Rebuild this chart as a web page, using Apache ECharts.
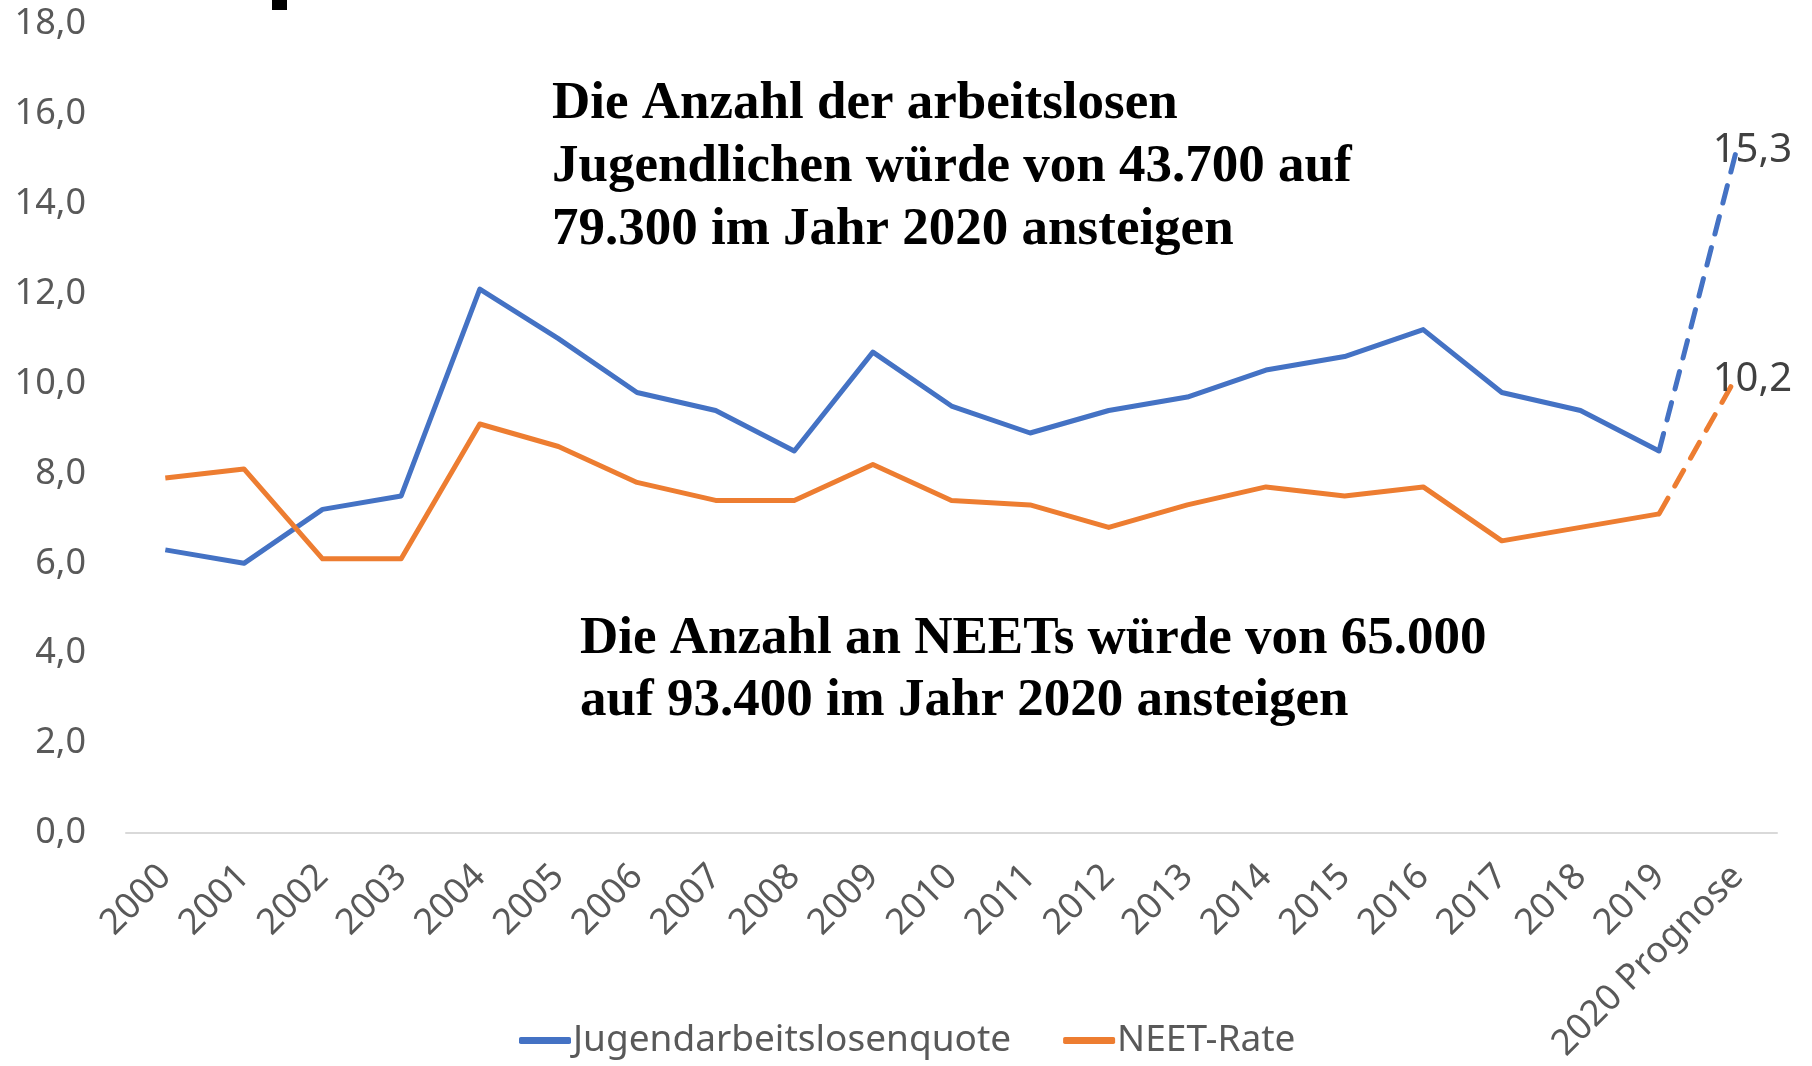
<!DOCTYPE html>
<html>
<head>
<meta charset="utf-8">
<script src="https://cdn.jsdelivr.net/npm/echarts@6/dist/echarts.min.js"></script>
<style>
    html, body { margin: 0; padding: 0; background: #fff; }
    #chart { width: 1812px; height: 1066px; }
</style>
</head>
<body>
<div id="chart"></div>
<script>
// Kategorien (Jahre)
const years = ['2000', '2001', '2002', '2003', '2004', '2005', '2006', '2007', '2008', '2009',
    '2010', '2011', '2012', '2013', '2014', '2015', '2016', '2017', '2018', '2019', '2020 Prognose']
// Jugendarbeitslosenquote
const youthRate = [6.3, 6.0, 7.2, 7.5, 12.1, 11.0, 9.8, 9.4, 8.5, 10.7,
    9.5, 8.9, 9.4, 9.7, 10.3, 10.6, 11.2, 9.8, 9.4, 8.5, 15.3]
// NEET-Rate
const neetRate = [7.9, 8.1, 6.1, 6.1, 9.1, 8.6, 7.8, 7.4, 7.4, 8.2,
    7.4, 7.3, 6.8, 7.3, 7.7, 7.5, 7.7, 6.5, 6.8, 7.1, 10.2]
const yTicks = [0, 2, 4, 6, 8, 10, 12, 14, 16, 18]

const blue = '#4472C4'
const orange = '#ED7D31'
const last = years.length - 1

// bis 2019 durchgezogen, 2019 -> 2020 gestrichelt
function solidPart(arr) {
    return arr.map((v, i) => (i < last ? v : '-'))
}
function dashedPart(arr) {
    return arr.map((v, i) => (i >= last - 1 ? v : '-'))
}

// Beschriftung nur am letzten Punkt
const endLabel = {
    show: true,
    position: 'right',
    offset: [-30, 5],
    color: '#404040',
    fontSize: 40,
    fontFamily: 'Noto Sans',
    formatter: p => (p.dataIndex === last ? String(p.value).replace('.', ',') : '')
}

const myChart = echarts.init(document.getElementById('chart'))
const option = {
    animation: false,
    grid: { left: 126, right: 35, top: 24, bottom: 233 },
    xAxis: {
        type: 'category',
        data: years,
        axisLine: { lineStyle: { color: '#D9D9D9', width: 2 } },
        axisTick: { show: false },
        axisLabel: {
            interval: 0,
            rotate: 45,
            margin: 38,
            color: '#595959',
            fontSize: 36,
            fontFamily: 'Noto Sans'
        }
    },
    yAxis: {
        type: 'value',
        min: 0,
        max: 18,
        interval: 2,
        splitLine: { show: false },
        axisLine: { show: false },
        axisTick: { show: false },
        axisLabel: {
            margin: 40,
            color: '#595959',
            fontSize: 36,
            fontFamily: 'Noto Sans',
            formatter: v => (yTicks.indexOf(v) >= 0 ? v.toFixed(1).replace('.', ',') : '')
        }
    },
    legend: {
        left: 514,
        top: 1017,
        itemWidth: 52,
        itemHeight: 7,
        itemGap: 52,
        icon: 'roundRect',
        textStyle: { color: '#595959', fontSize: 37, fontFamily: 'Noto Sans', padding: [0, 0, 0, -3] },
        data: ['Jugendarbeitslosenquote', 'NEET-Rate']
    },
    series: [
        {
            name: 'Jugendarbeitslosenquote',
            type: 'line',
            data: solidPart(youthRate),
            symbol: 'none',
            lineStyle: { color: blue, width: 5, join: 'round' },
            itemStyle: { color: blue }
        },
        {
            name: 'Jugendarbeitslosenquote',
            type: 'line',
            data: dashedPart(youthRate),
            symbol: 'circle',
            symbolSize: 0.1,
            showSymbol: true,
            lineStyle: { color: blue, width: 5, type: [18, 14], cap: 'round' },
            itemStyle: { color: blue },
            label: endLabel
        },
        {
            name: 'NEET-Rate',
            type: 'line',
            data: solidPart(neetRate),
            symbol: 'none',
            lineStyle: { color: orange, width: 5, join: 'round' },
            itemStyle: { color: orange }
        },
        {
            name: 'NEET-Rate',
            type: 'line',
            data: dashedPart(neetRate),
            symbol: 'circle',
            symbolSize: 0.1,
            showSymbol: true,
            lineStyle: { color: orange, width: 5, type: [18, 14], cap: 'round' },
            itemStyle: { color: orange },
            label: endLabel
        }
    ],
    graphic: [
        // Rest des abgeschnittenen Titels oben
        { type: 'rect', left: 272, top: 0, shape: { width: 15, height: 10 }, style: { fill: '#000' } },
        {
            type: 'text',
            left: 552,
            top: 73,
            style: {
                text: 'Die Anzahl der arbeitslosen\nJugendlichen würde von 43.700 auf\n79.300 im Jahr 2020 ansteigen',
                font: 'bold 53px "Liberation Serif"',
                lineHeight: 63,
                fill: '#000'
            }
        },
        {
            type: 'text',
            left: 580,
            top: 608,
            style: {
                text: 'Die Anzahl an NEETs würde von 65.000\nauf 93.400 im Jahr 2020 ansteigen',
                font: 'bold 53px "Liberation Serif"',
                lineHeight: 62,
                fill: '#000'
            }
        }
    ]
}
myChart.setOption(option)
</script>
</body>
</html>
